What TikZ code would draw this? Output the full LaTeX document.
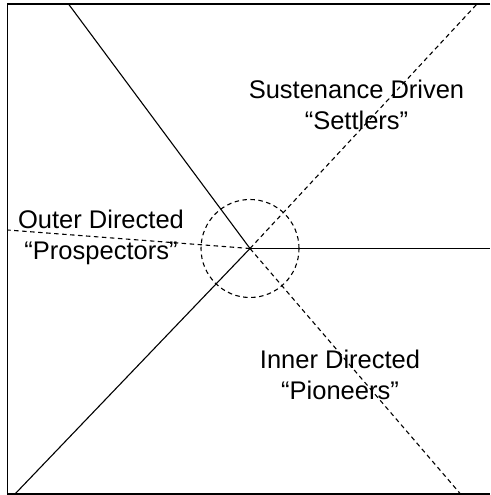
\documentclass[tikz,border=0pt]{standalone}
\usepackage{fontspec}
\setmainfont{Liberation Sans}
\usetikzlibrary{positioning}
\tikzset{
  frame/.style={draw, line width=1.2pt},
  ray/.style={draw, line width=1.1pt},
  dashray/.style={draw, line width=1.1pt, dash pattern=on 4.5pt off 3.5pt},
  quadtext/.style={align=center, inner sep=0pt,
                   font=\fontsize{25.5}{30.5}\selectfont},
}
\begin{document}
\begin{tikzpicture}[x=1pt, y=1pt]
  \useasboundingbox (0,0) rectangle (490,495);
  % frame, open at the right edge
  \draw[frame] (490,491) -- (7.5,491) -- (7.5,1) -- (490,1);

  % centre and ends of the rays
  \coordinate (hub) at (250,246.5);
  \coordinate (ul) at (68.5,491);
  \coordinate (ur) at (477,491);
  \coordinate (r) at (490,246.5);
  \coordinate (ll) at (15,1);
  \coordinate (lr) at (460.5,1);
  \coordinate (l) at (7.5,265);

  \foreach \e in {ul, r, ll}{
    \draw[ray] (hub) -- (\e);
  }
  \foreach \e in {ur, l, lr}{
    \draw[dashray] (hub) -- (\e);
  }
  \draw[dashray] (hub) circle (49);

  % quadrant labels
  \node[quadtext] (settlers) at (356.5,390) {Sustenance Driven\\“Settlers”};
  \node[quadtext] (prospectors) at (101,257.5) {Outer Directed\\“Prospectors”};
  \node[quadtext] (pioneers) at (340,120) {Inner Directed\\“Pioneers”};
\end{tikzpicture}
\end{document}
